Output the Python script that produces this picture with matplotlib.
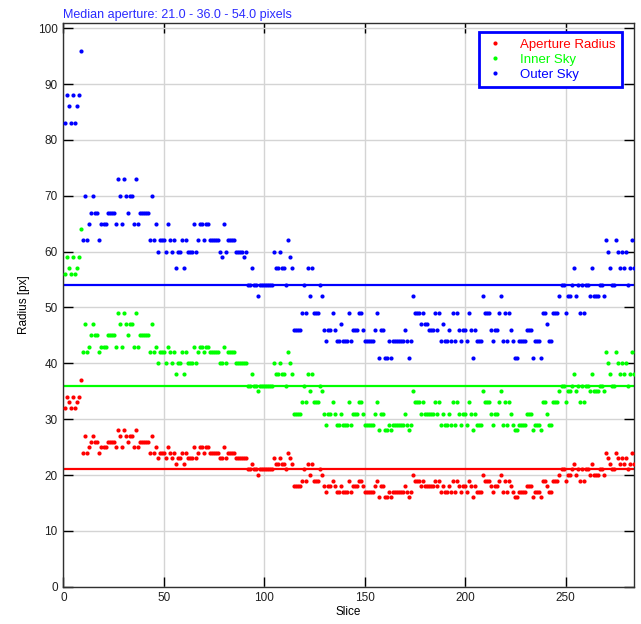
import numpy as np
import matplotlib
matplotlib.use("Agg")
from matplotlib import pyplot as plt

# values, one per slice (slice 1 .. 284)
aperture_radius = [
    32, 34, 33, 32, 34, 32, 33, 34, 37, 24,
    27, 24, 25, 26, 27, 26, 26, 24, 25, 25,
    25, 26, 26, 26, 26, 25, 28, 27, 25, 28,
    27, 26, 27, 27, 25, 28, 25, 26, 26, 26,
    26, 26, 24, 27, 24, 25, 23, 24, 24, 24,
    23, 25, 24, 23, 24, 22, 23, 23, 24, 22,
    24, 23, 23, 23, 25, 23, 24, 25, 25, 24,
    25, 25, 24, 24, 24, 24, 24, 23, 23, 25,
    23, 24, 24, 24, 24, 23, 23, 23, 23, 23,
    23, 21, 21, 22, 21, 21, 20, 21, 21, 21,
    21, 21, 21, 21, 23, 22, 22, 23, 22, 22,
    21, 24, 23, 22, 18, 18, 18, 18, 19, 21,
    19, 22, 20, 22, 19, 19, 19, 21, 20, 18,
    17, 18, 18, 19, 18, 17, 17, 18, 17, 17,
    17, 19, 17, 18, 18, 18, 19, 19, 18, 17,
    17, 17, 17, 17, 18, 19, 16, 18, 18, 16,
    16, 17, 16, 17, 17, 17, 17, 17, 17, 18,
    17, 16, 17, 20, 19, 19, 19, 18, 19, 18,
    18, 18, 18, 18, 19, 18, 19, 17, 18, 17,
    17, 18, 17, 19, 17, 19, 18, 17, 18, 18,
    17, 19, 18, 16, 18, 17, 17, 17, 20, 19,
    19, 19, 18, 17, 18, 18, 19, 20, 17, 19,
    17, 19, 18, 17, 16, 16, 17, 17, 17, 17,
    18, 18, 18, 16, 17, 17, 17, 16, 19, 19,
    18, 17, 17, 19, 19, 19, 20, 21, 21, 19,
    20, 20, 21, 22, 20, 21, 19, 21, 19, 21,
    21, 20, 22, 20, 20, 20, 21, 21, 20, 24,
    23, 22, 21, 21, 24, 23, 22, 23, 22, 23,
    21, 22, 24, 22,
]

inner_sky = [
    56, 59, 57, 56, 59, 56, 57, 59, 64, 42,
    47, 42, 43, 45, 47, 45, 45, 42, 43, 43,
    43, 45, 45, 45, 45, 43, 49, 47, 43, 49,
    47, 45, 47, 47, 43, 49, 43, 45, 45, 45,
    45, 45, 42, 47, 42, 43, 40, 42, 42, 42,
    40, 43, 42, 40, 42, 38, 40, 40, 42, 38,
    42, 40, 40, 40, 43, 40, 42, 43, 43, 42,
    43, 43, 42, 42, 42, 42, 42, 40, 40, 43,
    40, 42, 42, 42, 42, 40, 40, 40, 40, 40,
    40, 36, 36, 38, 36, 36, 35, 36, 36, 36,
    36, 36, 36, 36, 40, 38, 38, 40, 38, 38,
    36, 42, 40, 38, 31, 31, 31, 31, 33, 36,
    33, 38, 35, 38, 33, 33, 33, 36, 35, 31,
    29, 31, 31, 33, 31, 29, 29, 31, 29, 29,
    29, 33, 29, 31, 31, 31, 33, 33, 31, 29,
    29, 29, 29, 29, 31, 33, 28, 31, 31, 28,
    28, 29, 28, 29, 29, 29, 29, 29, 29, 31,
    29, 28, 29, 35, 33, 33, 33, 31, 33, 31,
    31, 31, 31, 31, 33, 31, 33, 29, 31, 29,
    29, 31, 29, 33, 29, 33, 31, 29, 31, 31,
    29, 33, 31, 28, 31, 29, 29, 29, 35, 33,
    33, 33, 31, 29, 31, 31, 33, 35, 29, 33,
    29, 33, 31, 29, 28, 28, 29, 29, 29, 29,
    31, 31, 31, 28, 29, 29, 29, 28, 33, 33,
    31, 29, 29, 33, 33, 33, 35, 36, 36, 33,
    35, 35, 36, 38, 35, 36, 33, 36, 33, 36,
    36, 35, 38, 35, 35, 35, 36, 36, 35, 42,
    40, 38, 36, 36, 42, 40, 38, 40, 38, 40,
    36, 38, 42, 38,
]

outer_sky = [
    83, 88, 86, 83, 88, 83, 86, 88, 96, 62,
    70, 62, 65, 67, 70, 67, 67, 62, 65, 65,
    65, 67, 67, 67, 67, 65, 73, 70, 65, 73,
    70, 67, 70, 70, 65, 73, 65, 67, 67, 67,
    67, 67, 62, 70, 62, 65, 60, 62, 62, 62,
    60, 65, 62, 60, 62, 57, 60, 60, 62, 57,
    62, 60, 60, 60, 65, 60, 62, 65, 65, 62,
    65, 65, 62, 62, 62, 62, 62, 60, 59, 65,
    60, 62, 62, 62, 62, 60, 60, 60, 60, 59,
    60, 54, 54, 57, 54, 54, 52, 54, 54, 54,
    54, 54, 54, 54, 60, 57, 57, 60, 57, 57,
    54, 62, 59, 57, 46, 46, 46, 46, 49, 54,
    49, 57, 52, 57, 49, 49, 49, 54, 52, 46,
    44, 46, 46, 49, 46, 44, 44, 47, 44, 44,
    44, 49, 44, 46, 46, 46, 49, 49, 46, 44,
    44, 44, 44, 44, 46, 49, 41, 46, 46, 41,
    41, 44, 41, 44, 44, 44, 44, 44, 44, 46,
    44, 41, 44, 52, 49, 49, 49, 47, 49, 47,
    47, 46, 46, 46, 49, 46, 49, 44, 47, 44,
    44, 46, 44, 49, 44, 49, 46, 44, 46, 46,
    44, 49, 46, 41, 46, 44, 44, 44, 52, 49,
    49, 49, 46, 44, 46, 46, 49, 52, 44, 49,
    44, 49, 46, 44, 41, 41, 44, 44, 44, 44,
    46, 46, 46, 41, 44, 44, 44, 41, 49, 49,
    47, 44, 44, 49, 49, 49, 52, 54, 54, 49,
    52, 52, 54, 57, 52, 54, 49, 54, 49, 54,
    54, 52, 57, 52, 52, 52, 54, 54, 52, 62,
    60, 57, 54, 54, 62, 60, 57, 60, 57, 60,
    54, 57, 62, 57,
]

medians = [21.0, 36.0, 54.0]
labels = ['Aperture Radius', 'Inner Sky', 'Outer Sky']
colors = ['#ff0000', '#00ff00', '#0000ff']

plt.rcParams['font.family'] = ['Liberation Sans', 'DejaVu Sans']

slices = np.arange(1, len(aperture_radius) + 1)

fig = plt.figure(figsize=(6.41, 6.24), dpi=100)
ax = fig.add_axes([0.0988, 0.0598, 0.89, 0.9038])

for values, label, color, med in zip([aperture_radius, inner_sky, outer_sky], labels, colors, medians):
    ax.plot(slices, values, linestyle='none', marker='o', markersize=3.0,
            markeredgewidth=0, color=color, label=label, zorder=3)
    ax.axhline(med, color=color, linewidth=1.6, zorder=2)

ax.set_xlim(0, 284)
ax.set_ylim(0, 101)
ax.set_xticks(np.arange(0, 251, 50))
ax.set_yticks(np.arange(0, 101, 10))
ax.grid(True, color='#d4d4d4', linewidth=1.0, zorder=0)
ax.set_axisbelow(True)
ax.tick_params(direction='in', top=True, right=True, length=7, width=1,
               labelsize=8.5, labelcolor='#202020', pad=4)
for spine in ax.spines.values():
    spine.set_color('#303030')
    spine.set_linewidth(1.0)

ax.set_xlabel('Slice', fontsize=8.5, labelpad=1)
ax.set_ylabel('Radius [px]', fontsize=8.5, labelpad=6)

ax.text(0, 1.008, 'Median aperture: %.1f - %.1f - %.1f pixels' % tuple(medians),
        transform=ax.transAxes, color='#2a2aff', fontsize=9, va='baseline', ha='left')

leg = ax.legend(loc='upper right', bbox_to_anchor=(0.9795, 0.9835), borderaxespad=0,
                fontsize=9.5, fancybox=False, framealpha=1, edgecolor='#0000ff',
                labelcolor='linecolor', handlelength=1.4, handletextpad=1.2,
                borderpad=0.5, labelspacing=0.2, markerscale=1.0)
leg.get_frame().set_linewidth(2)

fig.savefig('out.png', dpi=100)
